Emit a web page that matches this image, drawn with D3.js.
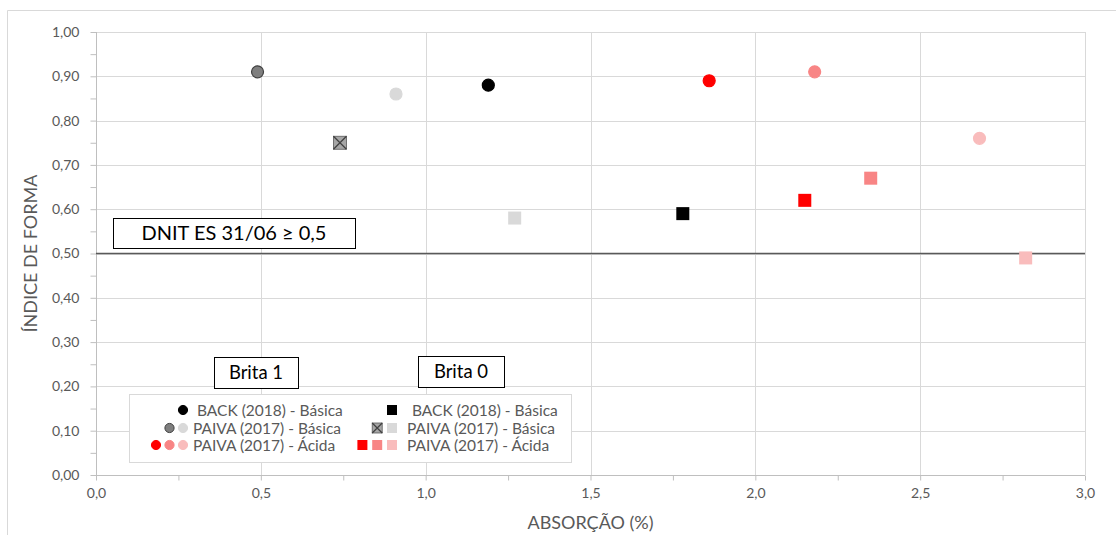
<!DOCTYPE html>
<html><head><meta charset="utf-8">
<script src="https://cdn.jsdelivr.net/npm/d3@7"></script>
<style>body{margin:0;background:#fff}svg{display:block;font-family:Lato,"Open Sans",sans-serif}</style>
</head><body>
<svg id="c" width="1116" height="535"></svg>
<script>
// Data
const xTicks = [0,0.5,1.0,1.5,2.0,2.5,3.0];
const yTicks = [0,0.1,0.2,0.3,0.4,0.5,0.6,0.7,0.8,0.9,1.0];
const circleX = [1.19, 0.49, 0.91, 1.86, 2.18, 2.68];
const circleY = [0.88, 0.91, 0.86, 0.89, 0.91, 0.76];
const circleColor = ["#000000", "#7f7f7f", "#d9d9d9", "#ff0000", "#f88585", "#f9bcbc"];
const circleStroke = ["#000000", "#404040", "#d9d9d9", "#ff0000", "#f88585", "#f9bcbc"];
const squareX = [1.78, 0.74, 1.27, 2.15, 2.35, 2.82];
const squareY = [0.59, 0.75, 0.58, 0.62, 0.67, 0.49];
const squareColor = ["#000000", "#a6a6a6", "#d9d9d9", "#ff0000", "#f88585", "#f9bcbc"];
const squareCross = [false, true, false, false, false, false];
const limitValue = 0.5;
const legendCircleLabels = ["BACK (2018) - Básica", "PAIVA (2017) - Básica", "PAIVA (2017) - Ácida"];
const legendSquareLabels = ["BACK (2018) - Básica", "PAIVA (2017) - Básica", "PAIVA (2017) - Ácida"];
const legendCircleGroups = [[0],[1,2],[3,4,5]];
const legendSquareGroups = [[0],[1,2],[3,4,5]];

const svg = d3.select("#c");
const L = 96, R = 1085, T = 32, B = 475;
const x = d3.scaleLinear().domain([0,3]).range([L,R]);
const y = d3.scaleLinear().domain([0,1]).range([B,T]);
const txt = "#595959", grid = "#d9d9d9";

// outer border
svg.append("path").attr("d","M7.5,535 V10.5 H1116").attr("fill","none").attr("stroke","#d9d9d9");

// gridlines
svg.append("g").selectAll("line").data(yTicks.slice(1)).join("line")
  .attr("x1",L).attr("x2",R).attr("y1",d=>Math.round(y(d))+0.5).attr("y2",d=>Math.round(y(d))+0.5)
  .attr("stroke",grid).attr("stroke-width",1);
svg.append("g").selectAll("line").data(xTicks.slice(1)).join("line")
  .attr("y1",T).attr("y2",B).attr("x1",d=>Math.round(x(d))+0.5).attr("x2",d=>Math.round(x(d))+0.5)
  .attr("stroke",grid).attr("stroke-width",1);

// axes
const xAxis = d3.axisBottom(x).tickValues(d3.range(0,3.001,0.25)).tickSize(5)
  .tickFormat(d => (Math.abs(d*2-Math.round(d*2))<1e-6) ? d3.format(".1f")(d).replace(".",",") : "");
const gx = svg.append("g").attr("transform",`translate(0,${B+0.5})`).call(xAxis);
gx.select(".domain").attr("stroke","#bfbfbf").attr("d",`M${L},0H${R}`);
gx.selectAll(".tick line").attr("stroke","#bfbfbf");
gx.selectAll(".tick text").attr("fill",txt).attr("font-size",14).attr("dy","1.0em");

const yAxis = d3.axisLeft(y).tickValues(d3.range(0,1.0001,0.05)).tickSize(6)
  .tickFormat(d => (Math.abs(d*10-Math.round(d*10))<1e-6) ? d3.format(".2f")(d).replace(".",",") : "");
const gy = svg.append("g").attr("transform",`translate(${L+0.5},0)`).call(yAxis);
gy.select(".domain").attr("stroke","#bfbfbf").attr("d",`M0,${T}V${B}`);
gy.selectAll(".tick line").attr("stroke","#bfbfbf");
gy.selectAll(".tick text").attr("fill",txt).attr("font-size",14).attr("dx","-8");
svg.selectAll(".tick text").attr("font-family","Lato,sans-serif");

// limit line
svg.append("line").attr("x1",x(0)).attr("x2",x(3)).attr("y1",y(limitValue)).attr("y2",y(limitValue))
  .attr("stroke","#595959").attr("stroke-width",1.5);

// axis titles
svg.append("text").attr("x",(L+R)/2).attr("y",529).attr("text-anchor","middle")
  .attr("fill",txt).attr("font-size",18).text("ABSORÇÃO (%)");
svg.append("text").attr("transform",`translate(37,${(T+B)/2}) rotate(-90)`).attr("text-anchor","middle")
  .attr("fill",txt).attr("font-size",18).text("ÍNDICE DE FORMA");

// annotation boxes
function box(x0,y0,w,h,label,fs){
  svg.append("rect").attr("x",x0+0.5).attr("y",y0+0.5).attr("width",w).attr("height",h)
    .attr("fill","#fff").attr("stroke","#000").attr("stroke-width",1);
  svg.append("text").attr("x",x0+w/2).attr("y",y0+h/2).attr("dy","0.36em").attr("text-anchor","middle")
    .attr("font-size",fs).attr("fill","#000").text(label);
}
box(113,218,242,30,"DNIT ES 31/06 ≥ 0,5",20);
box(214,357,84,31,"Brita 1",18.5);
box(418,356,86,31,"Brita 0",18.5);

// markers
const S = 13;
function drawSquare(g,cx,cy,fill,cross,size){
  g.append("rect").attr("x",cx-size/2).attr("y",cy-size/2).attr("width",size).attr("height",size)
    .attr("fill",fill).attr("stroke",cross?"#595959":fill).attr("stroke-width",cross?0.8:0);
  if(cross){
    g.append("path").attr("d",`M${cx-size/2},${cy-size/2}L${cx+size/2},${cy+size/2}M${cx+size/2},${cy-size/2}L${cx-size/2},${cy+size/2}`)
      .attr("stroke","#404040").attr("stroke-width",1.2);
  }
}
const gm = svg.append("g");
circleX.forEach((cx,i)=>{
  gm.append("circle").attr("cx",x(cx)).attr("cy",y(circleY[i])).attr("r",6)
    .attr("fill",circleColor[i]).attr("stroke",circleStroke[i]).attr("stroke-width",1.2);
});
squareX.forEach((sx,i)=>{
  drawSquare(gm,x(sx),y(squareY[i]),squareColor[i],squareCross[i],S);
});

// legend
svg.append("rect").attr("x",129.5).attr("y",394.5).attr("width",442).attr("height",68)
  .attr("fill","#fff").attr("stroke","#d9d9d9").attr("stroke-width",1);
const rowsY = [410,428,445];
const lg = svg.append("g");
legendCircleGroups.forEach((grp,r)=>{
  grp.slice().reverse().forEach((idx,k)=>{
    lg.append("circle").attr("cx",183-13.5*k).attr("cy",rowsY[r]).attr("r",4.6)
      .attr("fill",circleColor[idx]).attr("stroke",circleStroke[idx]).attr("stroke-width",1);
  });
  lg.append("text").attr("x",r===0?197:193).attr("y",rowsY[r]).attr("dy","0.36em")
    .attr("font-size",15.5).attr("fill",txt).text(legendCircleLabels[r]);
});
legendSquareGroups.forEach((grp,r)=>{
  grp.slice().reverse().forEach((idx,k)=>{
    drawSquare(lg,392-14.8*k,rowsY[r],squareColor[idx],squareCross[idx],10);
  });
  lg.append("text").attr("x",r===0?412:407).attr("y",rowsY[r]).attr("dy","0.36em")
    .attr("font-size",15.5).attr("fill",txt).text(legendSquareLabels[r]);
});
</script>
</body></html>
